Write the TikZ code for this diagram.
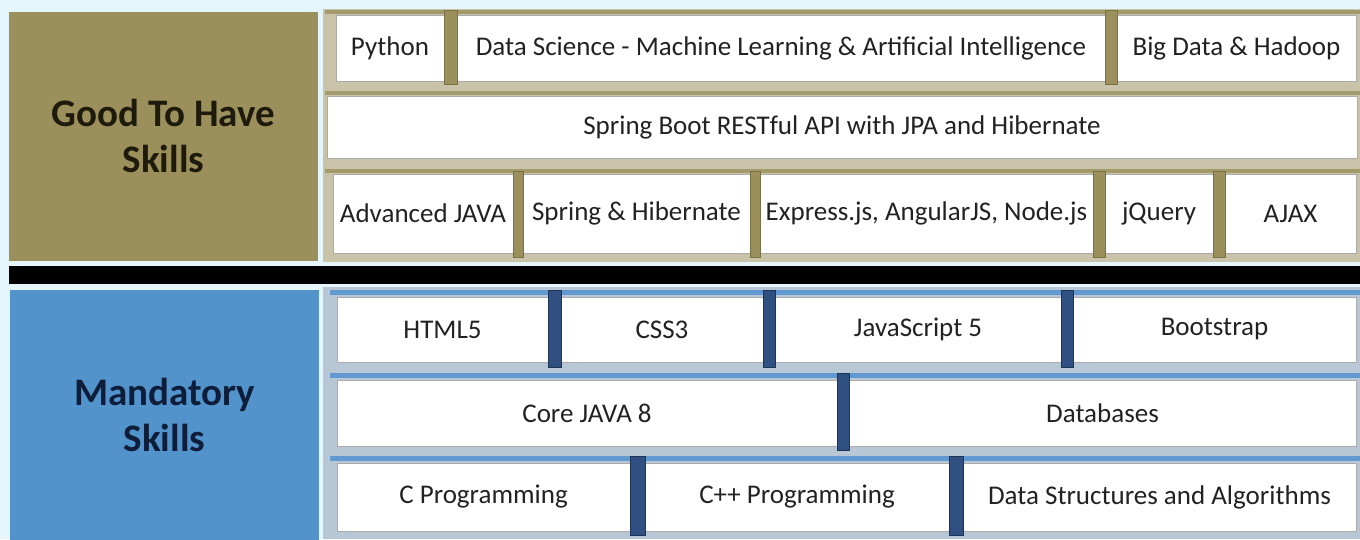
\documentclass[tikz,border=0pt]{standalone}
\usepackage{fontspec}
\setmainfont{Carlito}
\definecolor{bgc}{HTML}{E4F5FC}
\definecolor{olivebox}{HTML}{9B905B}
\definecolor{olivedark}{HTML}{7A7144}
\definecolor{olivestripe}{HTML}{A39A6C}
\definecolor{tanpanel}{HTML}{C9C3AA}
\definecolor{bluelbl}{HTML}{5193CA}
\definecolor{bluepanel}{HTML}{B8C7D6}
\definecolor{bluestripe}{HTML}{6199D0}
\definecolor{navydiv}{HTML}{2F5080}
\definecolor{navydark}{HTML}{1E3558}
\definecolor{navytxt}{HTML}{0E1E3A}
\definecolor{olivetxt}{HTML}{1E1A0C}
\definecolor{boxedge}{HTML}{ABABAB}
\definecolor{celltxt}{HTML}{222222}
% name, x1, y1, x2, y2, text
\newcommand{\skillcell}[6]{%
  \node[cell, minimum width={(#4-#2)*1pt}, minimum height={(#5-#3)*1pt}] (#1) at ({(#2+#4)/2},{(#3+#5)/2}) {#6};}
\begin{document}
\begin{tikzpicture}[x=1pt,y=-1pt,
  cell/.style={draw=boxedge, line width=0.6pt, fill=white, inner sep=0pt, outer sep=0pt,
    text=celltxt, font=\fontsize{27}{30}\selectfont},
  headbox/.style={inner sep=0pt, outer sep=0pt, align=center,
    font=\fontsize{39}{46}\selectfont\bfseries},
  odiv/.style={fill=olivebox, draw=olivedark, line width=0.8pt},
  ndiv/.style={fill=navydiv, draw=navydark, line width=0.8pt}]
\useasboundingbox (0,0) rectangle (1360,539);
\fill[bgc] (0,0) rectangle (1360,539);

% ---------------- Good to have ----------------
\node[headbox, fill=olivebox, text=olivetxt, minimum width=309pt, minimum height=249pt]
  (good) at (163.5,136) {Good To Have\\Skills};
\fill[tanpanel] (323,9) rectangle (1360,262);
\foreach \t in {15,96,174}{
  \fill[olivestripe] (325,\t-5) rectangle (1360,\t-1);
}
% row 1
\skillcell{python}{336}{15}{444}{81}{Python}
\skillcell{datasci}{457}{15}{1105}{81}{Data Science - Machine Learning \& Artificial Intelligence}
\skillcell{bigdata}{1117}{15}{1356}{81}{Big Data \& Hadoop}
\fill[odiv] (444,10) rectangle (457,84);
\fill[odiv] (1105,10) rectangle (1117,84);
% row 2
\skillcell{springboot}{327}{96}{1357}{158}{Spring Boot RESTful API with JPA and Hibernate}
% row 3
\skillcell{advjava}{333}{174}{513}{253}{Advanced JAVA}
\skillcell{springhib}{523}{174}{750}{253}{Spring \& Hibernate}
\skillcell{express}{760}{174}{1093}{253}{Express.js, AngularJS, Node.js}
\skillcell{jquery}{1105}{174}{1213}{253}{jQuery}
\skillcell{ajax}{1225}{174}{1356}{253}{AJAX}
\fill[odiv] (513,171) rectangle (523,257);
\fill[odiv] (750,171) rectangle (760,257);
\fill[odiv] (1093,171) rectangle (1105,257);
\fill[odiv] (1213,171) rectangle (1225,257);

% separator bar
\fill[black] (9,266) rectangle (1360,284);

% ---------------- Mandatory ----------------
\node[headbox, fill=bluelbl, text=navytxt, minimum width=309pt, minimum height=251pt]
  (mand) at (164.5,415) {Mandatory\\Skills};
\fill[bluepanel] (323,287) rectangle (1360,539);
\foreach \t in {297,380,463}{
  \fill[bluestripe] (330,\t-7) rectangle (1360,\t-2);
}
% row 1
\skillcell{html}{337}{297}{548}{362}{HTML5}
\skillcell{css}{561}{297}{763}{362}{CSS3}
\skillcell{js}{775}{297}{1061}{362}{JavaScript 5}
\skillcell{bootstrap}{1073}{297}{1356}{362}{Bootstrap}
\fill[ndiv] (548,290) rectangle (561,367);
\fill[ndiv] (763,290) rectangle (775,367);
\fill[ndiv] (1061,290) rectangle (1073,367);
% row 2
\skillcell{corejava}{337}{380}{837}{446}{Core JAVA 8}
\skillcell{db}{849}{380}{1356}{446}{Databases}
\fill[ndiv] (837,373) rectangle (849,450);
% row 3
\skillcell{cprog}{337}{463}{630}{531}{C Programming}
\skillcell{cpp}{645}{463}{949}{531}{C++ Programming}
\skillcell{dsa}{963}{463}{1356}{531}{Data Structures and Algorithms}
\fill[ndiv] (630,456) rectangle (645,535);
\fill[ndiv] (949,456) rectangle (963,535);
\end{tikzpicture}
\end{document}
